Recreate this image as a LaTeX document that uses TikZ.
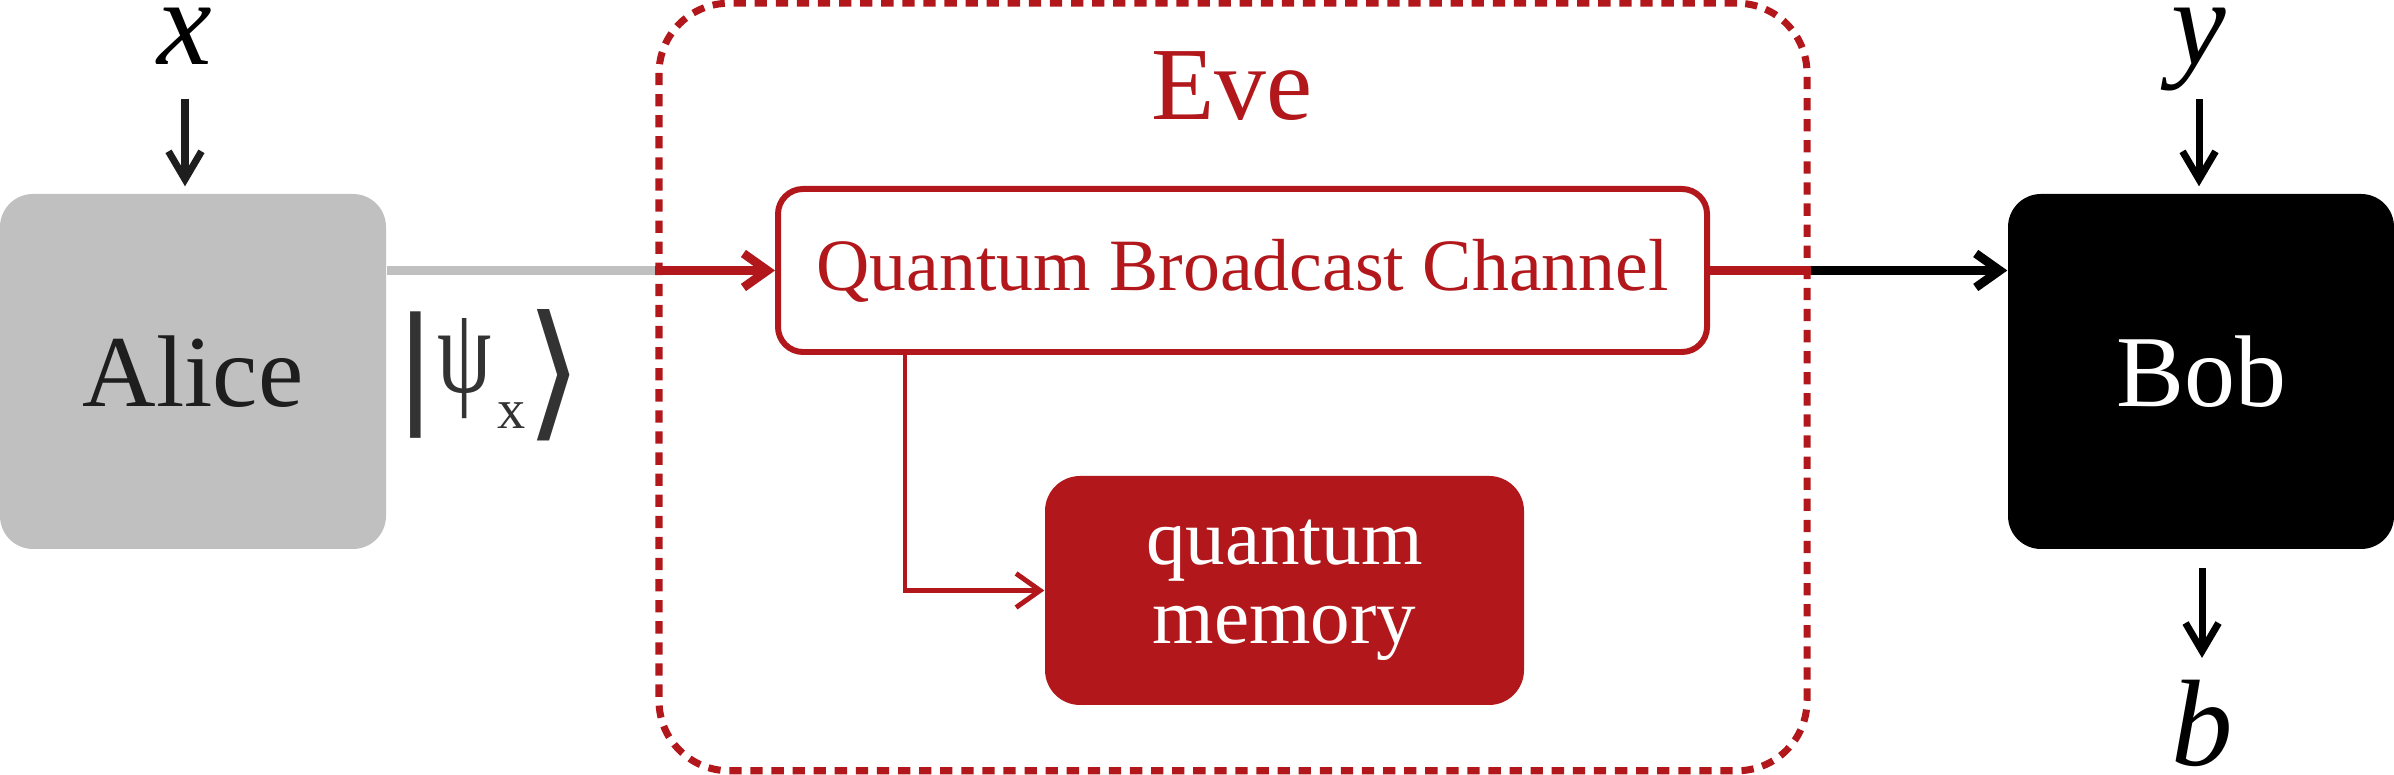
\documentclass[tikz,border=0pt]{standalone}
\usepackage{fontspec}
\setmainfont{Liberation Serif}
\newfontfamily\ketfont{DejaVu Sans}
\definecolor{evered}{RGB}{178,24,27}
\definecolor{alicegray}{RGB}{192,192,192}
\definecolor{alicetext}{RGB}{30,30,30}
\definecolor{ketgray}{RGB}{51,51,51}
\usetikzlibrary{arrows.meta, positioning}

\begin{document}
\begin{tikzpicture}[
    party/.style={rounded corners=0.33cm, minimum width=3.86cm, minimum height=3.55cm,
                  inner sep=0pt, font=\fontsize{29}{29}\selectfont},
    chanline/.style={line width=2.5pt},
    chantip/.style={-{Straight Barb[length=0.24cm,width=0.34cm]}},
    intip/.style={line width=2pt, shorten >=0.07cm, -{Straight Barb[length=0.28cm,width=0.33cm]}},
    var/.style={font=\fontsize{35}{35}\selectfont\itshape, inner sep=0pt, anchor=base}
]
    \useasboundingbox (0,0) rectangle (23.94,-7.75);
    % Eve
    \node[draw=evered, line width=2pt, dash pattern=on 3.5pt off 2.5pt, rounded corners=0.7cm,
          minimum width=11.48cm, minimum height=7.675cm] (eve) at (12.33,-3.87) {};
    \node[font=\fontsize{29.5}{29.5}\selectfont, text=evered, anchor=base] (evename) at (12.32,-1.20) {Eve};

    \node[party, fill=alicegray, text=alicetext] (alice) at (1.93,-3.715) {Alice};
    \node[party, fill=black, text=white] (bob) at (22.01,-3.715) {Bob};

    \node[draw=evered, line width=1.7pt, fill=white, rounded corners=0.25cm, minimum width=9.29cm,
          minimum height=1.63cm, text=evered, font=\fontsize{21}{21}\selectfont] (qbc) at (12.425,-2.705) {Quantum Broadcast Channel};
    \node[fill=evered, rounded corners=0.35cm, minimum width=4.79cm, minimum height=2.29cm, text=white,
          align=center, font=\fontsize{22.5}{22.5}\selectfont] (mem) at (12.845,-5.905) {quantum\\memory};

    \node[text=ketgray, inner sep=0pt, anchor=base] (ket) at (4.89,-4.085) {{\ketfont\fontsize{36}{36}\selectfont |}\raisebox{0.155cm}{\fontsize{28}{28}\selectfont\scalebox{0.88}[1.25]{ψ}}\hspace{0.06cm}\raisebox{-0.205cm}{\fontsize{16}{16}\selectfont x}\raisebox{-0.135cm}{\ketfont\fontsize{42}{42}\selectfont ⟩}};

    % channel
    \coordinate (evein) at (eve.west |- qbc.west);
    \coordinate (eveout) at (eve.east |- qbc.east);
    \draw[chanline, alicegray] (alice.east |- qbc.west) -- (evein);
    \draw[chanline, evered, chantip] (evein) -- (qbc.west);
    \draw[chanline, evered] (qbc.east) -- (eveout);
    \draw[chanline, black, chantip] (eveout) -- (bob.west |- qbc.east);
    \draw[evered, line width=1.4pt, chantip] ([xshift=1.3cm]qbc.south west) |- (mem.west);

    % inputs and output
    \node[var] (xin) at (1.85,-0.65) {x};
    \node[var] (yin) at (21.99,-0.65) {y};
    \node[var] (bout) at (22.02,-7.66) {b};
    \draw[intip, alicetext, shorten <=0.33cm] (xin.south) -- (xin.south |- alice.north);
    \draw[intip, black, shorten <=0.07cm] (yin.south) -- (yin.south |- bob.north);
    \draw[intip, black, shorten <=0.18cm, shorten >=0.22cm] (bout.north |- bob.south) -- (bout.north);
\end{tikzpicture}
\end{document}
